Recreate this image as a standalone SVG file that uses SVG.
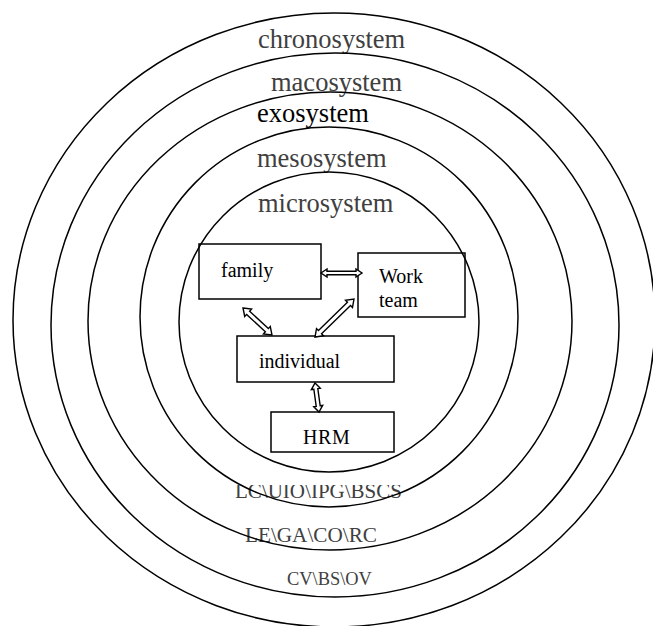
<svg xmlns="http://www.w3.org/2000/svg" width="653" height="626" viewBox="0 0 653 626">
<style>
.ring{fill:none;stroke:#000;stroke-width:1.5}
.box{fill:none;stroke:#000;stroke-width:1.5}
.lab{font-family:"Liberation Serif","Times New Roman",serif;font-size:26.5px;fill:#404040}
.blk{fill:#000}
.nd{font-family:"Liberation Serif","Times New Roman",serif;font-size:20px;fill:#000}
.sub{font-family:"Liberation Serif","Times New Roman",serif;fill:#404040}
.arr{fill:#fff;stroke:#000;stroke-width:1.4;stroke-linejoin:miter}
</style>
<defs>
<clipPath id="cut"><rect x="0" y="485" width="653" height="141"/></clipPath>
</defs>
<rect width="653" height="626" fill="#fff"/>
<g id="chronosystem">
<ellipse class="ring" cx="334" cy="320" rx="321" ry="307"/>
<text class="lab" x="258" y="48">chronosystem</text>
<text class="sub" x="287" y="585" font-size="18.4">CV\BS\OV</text>
</g>
<g id="macosystem">
<ellipse class="ring" cx="335" cy="325" rx="284" ry="272"/>
<text class="lab" x="271" y="91">macosystem</text>
<text class="sub" x="245" y="541.5" font-size="21" textLength="132" lengthAdjust="spacingAndGlyphs">LE\GA\CO\RC</text>
</g>
<g id="exosystem">
<ellipse class="ring" cx="330" cy="321" rx="242" ry="229"/>
<text class="lab blk" x="257" y="121.5">exosystem</text>
<text class="sub" x="235" y="497.5" font-size="20.5" textLength="167" lengthAdjust="spacingAndGlyphs" clip-path="url(#cut)">LC\UIO\IPG\BSCS</text>
</g>
<g id="mesosystem">
<ellipse class="ring" cx="329" cy="317" rx="189" ry="190"/>
<text class="lab" x="257" y="166.5">mesosystem</text>
</g>
<g id="microsystem">
<ellipse class="ring" cx="329" cy="322" rx="150" ry="150"/>
<text class="lab" x="258" y="211.5">microsystem</text>
</g>
<g id="family">
<rect class="box" x="199" y="244" width="122" height="55"/>
<text class="nd" x="221" y="277">family</text>
</g>
<g id="work-team">
<rect class="box" x="358" y="253" width="107" height="64"/>
<text class="nd" x="379" y="283">Work</text>
<text class="nd" x="379" y="307" font-size="19">team</text>
</g>
<g id="individual">
<rect class="box" x="237" y="336" width="157" height="46"/>
<text class="nd" x="259" y="368">individual</text>
</g>
<g id="hrm">
<rect class="box" x="271" y="412" width="123" height="40"/>
<text class="nd" x="303" y="443.5" letter-spacing="0.6">HRM</text>
</g>
<g id="connectors">
<polygon class="arr" transform="translate(321,273)" points="0,0 6,-4 6,-1.8 35,-1.8 35,-4 41,0 35,4 35,1.8 6,1.8 6,4"/>
<polygon class="arr" transform="translate(243,308) rotate(42.95)" points="0,0 7,-5 7,-2.2 32.6,-2.2 32.6,-5 39.6,0 32.6,5 32.6,2.2 7,2.2 7,5"/>
<polygon class="arr" transform="translate(354,299) rotate(135.7)" points="0,0 7,-5 7,-2.2 47.5,-2.2 47.5,-5 54.5,0 47.5,5 47.5,2.2 7,2.2 7,5"/>
<polygon class="arr" transform="translate(315,383) rotate(82.1)" points="0,0 6,-4.5 6,-2 23.3,-2 23.3,-4.5 29.3,0 23.3,4.5 23.3,2 6,2 6,4.5"/>
</g>
</svg>
